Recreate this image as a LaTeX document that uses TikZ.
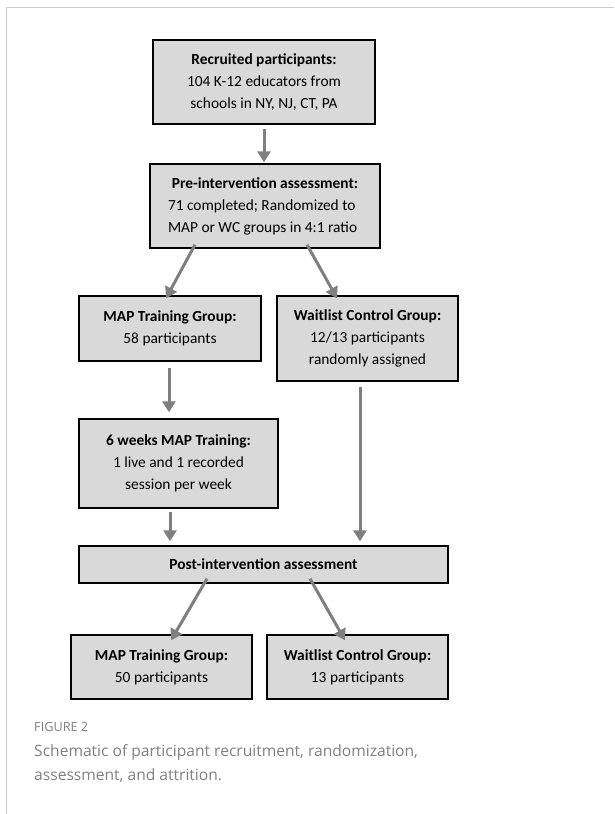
\documentclass[tikz,border=0pt]{standalone}
\usepackage{fontspec}
\setmainfont{Carlito}
\newfontfamily\capfont{Open Sans}
\usetikzlibrary{arrows.meta}
\definecolor{boxfill}{HTML}{D9D9D9}
\definecolor{arrgray}{HTML}{7F7F7F}
\definecolor{capgray}{HTML}{808080}
\definecolor{framegray}{HTML}{CCCCCC}
\tikzset{
  flowbox/.style={draw=black, line width=1.4pt, fill=boxfill, align=center,
    font=\fontsize{15.4}{22}\selectfont, inner sep=0pt},
  arr/.style={draw=arrgray, line width=3pt,
    -{Triangle[width=13pt,length=11pt]}},
}
\begin{document}
\begin{tikzpicture}[x=1pt,y=-1pt]
\useasboundingbox (0,0) rectangle (614,814);
\draw[framegray, line width=0.8pt] (6,814) -- (6,7) -- (614,7);

\node[flowbox, minimum width=222pt, minimum height=84pt] (b1) at (264,82)
  {\textbf{Recruited participants:}\\104 K-12 educators from\\schools in NY, NJ, CT, PA};
\node[flowbox, minimum width=230pt, minimum height=84pt] (b2) at (265,206)
  {\textbf{Pre-intervention assessment:}\\
   \makebox[194pt][l]{71 completed; Randomized to}\\
   \makebox[194pt][l]{MAP or WC groups in 4:1 ratio}};
\node[flowbox, minimum width=182pt, minimum height=65pt] (b3) at (170,328.5)
  {\textbf{MAP Training Group:}\\58 participants};
\node[flowbox, minimum width=181pt, minimum height=85pt] (b4) at (367.5,338.5)
  {\textbf{Waitlist Control Group:}\\12/13 participants\\randomly assigned};
\node[flowbox, minimum width=199pt, minimum height=89pt] (b5) at (178.5,463.5)
  {\textbf{6 weeks MAP Training:}\\1 live and 1 recorded\\session per week};
\node[flowbox, minimum width=369pt, minimum height=37pt] (post) at (263.5,564.5)
  {\textbf{Post-intervention assessment}};
\node[flowbox, minimum width=181pt, minimum height=64pt] (b6) at (161.5,667)
  {\textbf{MAP Training Group:}\\50 participants};
\node[flowbox, minimum width=181pt, minimum height=64pt] (b7) at (357.5,667)
  {\textbf{Waitlist Control Group:}\\13 participants};

\draw[arr, shorten <=4pt, shorten >=1pt] (b1.south) -- (b1.south |- b2.north);
\draw[arr] ([xshift=-70pt,yshift=4pt]b2.south) -- ([xshift=-4pt,yshift=-3pt]b3.north);
\draw[arr] ([xshift=42pt,yshift=4pt]b2.south) -- ([xshift=-30.5pt,yshift=-3pt]b4.north);
\draw[arr, shorten <=6pt, shorten >=6pt] ([xshift=-1pt]b3.south) -- ([xshift=-1pt]b3.south |- b5.north);
\draw[arr, shorten <=3pt, shorten >=4pt] ([xshift=-8.5pt]b5.south) -- ([xshift=-8.5pt]b5.south |- post.north);
\draw[arr, shorten <=5pt, shorten >=4pt] ([xshift=-7.5pt]b4.south) -- ([xshift=-7.5pt]b4.south |- post.north);
\draw[arr] ([xshift=-56.5pt,yshift=5pt]post.south) -- ([xshift=9.5pt,yshift=-6pt]b6.north);
\draw[arr] ([xshift=46.5pt,yshift=5pt]post.south) -- ([xshift=-12.5pt,yshift=-6pt]b7.north);

\node[anchor=west, inner sep=0pt, text=capgray, font=\capfont\fontsize{12.7}{14}\selectfont] (fig) at (34,727) {FIGURE 2};
\node[anchor=north west, inner sep=0pt, text=capgray, align=left,
  font=\capfont\fontsize{15.6}{24}\selectfont] (cap) at (34,744)
  {Schematic of participant recruitment, randomization,\\assessment, and attrition.};
\end{tikzpicture}
\end{document}
